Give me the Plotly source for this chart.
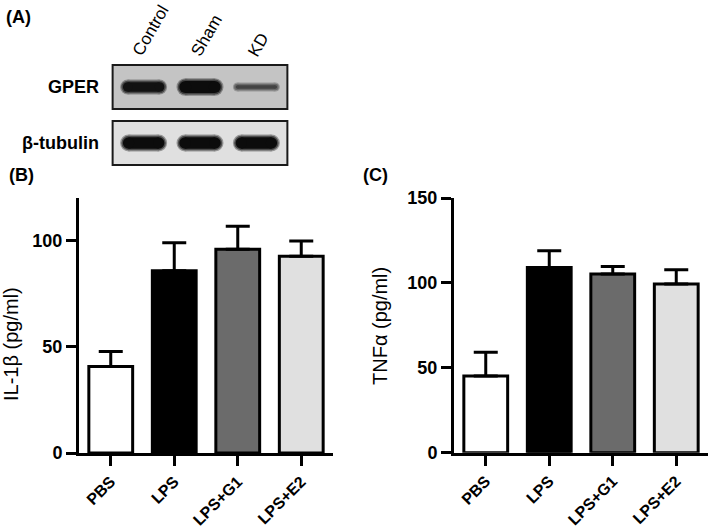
import plotly.graph_objects as go

W, H = 709, 530

# ---------------- data ----------------
groups = ["PBS", "LPS", "LPS+G1", "LPS+E2"]
il1b_mean = [40.7, 85.8, 95.9, 92.6]
il1b_sem = [7.1, 13.2, 10.8, 7.2]
tnfa_mean = [45.2, 109.0, 105.3, 99.4]
tnfa_sem = [14.0, 10.0, 4.3, 8.3]
bar_colors = ["#ffffff", "#000000", "#6b6b6b", "#e0e0e0"]

lanes = ["Control", "Sham", "KD"]
blot_rows = ["GPER", "β-tubulin"]
gper_intensity = [0.82, 1.00, 0.38]
tubulin_intensity = [0.95, 0.95, 0.95]

FONT = "Arial, 'Liberation Sans', Helvetica, sans-serif"


def px(x):
    return x / W


def py(y):
    return 1 - y / H


fig = go.Figure()

# ---------------- bar panels ----------------
for means, sems, xa, ya in [
    (il1b_mean, il1b_sem, "x", "y"),
    (tnfa_mean, tnfa_sem, "x2", "y2"),
]:
    fig.add_trace(go.Bar(
        x=groups, y=means, xaxis=xa, yaxis=ya, width=0.69,
        marker=dict(color=bar_colors, line=dict(color="black", width=3)),
        error_y=dict(type="data", symmetric=False, array=sems,
                     arrayminus=[0] * len(sems), color="black",
                     thickness=3, width=12),
        showlegend=False, hoverinfo="skip",
    ))

axis_common = dict(
    showline=True, linecolor="black", linewidth=3, ticks="outside",
    ticklen=10, tickwidth=3, tickcolor="black", showgrid=False,
    zeroline=False, mirror=False, automargin=False,
)
xcommon = dict(axis_common, range=[-0.5, 3.5], tickangle=-45,
               tickfont=dict(family=FONT, size=16, color="black", weight="bold"))
ycommon = dict(axis_common, dtick=50,
               tickfont=dict(family=FONT, size=18, color="black", weight="bold"))

fig.update_layout(
    xaxis=dict(xcommon, domain=[px(79), px(333)], anchor="y"),
    yaxis=dict(ycommon, domain=[py(453), py(198)], range=[0, 120], anchor="x"),
    xaxis2=dict(xcommon, domain=[px(454), px(708)], anchor="y2"),
    yaxis2=dict(ycommon, domain=[py(452.7), py(198)], range=[0, 150], anchor="x2"),
)

# ---------------- western blot panel ----------------
LANE_PX = 56.4  # pixels per lane on the blot axis
lane_pos = list(range(len(lanes)))
row_pos = {"GPER": 1, "β-tubulin": 0}
fig.update_layout(
    xaxis3=dict(domain=[px(109.8), px(290.2)], range=[-0.6, 2.6], visible=False,
                anchor="y3", fixedrange=True, automargin=False),
    yaxis3=dict(domain=[py(168.2), py(61.8)], range=[-0.45, 1.45], visible=False,
                anchor="x3", fixedrange=True, automargin=False),
)

box_bg = {"GPER": "#c4c4c4", "β-tubulin": "#e0e0e0"}
shapes = []
for r in blot_rows:
    yc = row_pos[r]
    shapes.append(dict(type="rect", xref="x3", yref="y3", x0=-0.55, x1=2.55,
                       y0=yc - 0.393, y1=yc + 0.393, fillcolor=box_bg[r],
                       line=dict(color="#1a1a1a", width=2), layer="below"))
fig.update_layout(shapes=shapes)


def mix(bg, a):
    v = int(round(bg * (1 - a) + 12 * a))
    return f"rgb({v},{v},{v})"


for r, inten in [("GPER", gper_intensity), ("β-tubulin", tubulin_intensity)]:
    yc = row_pos[r]
    bgv = int(box_bg[r][1:3], 16)
    for lp, a in zip(lane_pos, inten):
        thick = 13.5 * a
        dark = 0.72 + 0.3 * a if a > 0.5 else 0.55 + 0.4 * a
        dark = min(dark, 1.0)
        hw = (21.5 - thick / 2) / LANE_PX
        layers = [(thick + 4, dark * 0.35), (thick + 1.5, dark * 0.7), (thick - 1.5, dark)]
        for wdt, d in layers:
            fig.add_trace(go.Scatter(
                x=[lp - hw, lp + hw], y=[yc, yc], xaxis="x3", yaxis="y3",
                mode="lines+markers", line=dict(color=mix(bgv, d), width=wdt),
                marker=dict(size=wdt, color=mix(bgv, d)),
                showlegend=False, hoverinfo="skip"))

annotations = []
lane_label_xy = [(151, 31), (207, 36), (259, 45)]
for name, (lx, ly) in zip(lanes, lane_label_xy):
    annotations.append(dict(x=px(lx), y=py(ly), xref="paper", yref="paper", text=name,
                            textangle=-60, showarrow=False, xanchor="center",
                            yanchor="middle",
                            font=dict(family=FONT, size=17, color="black")))
for r in blot_rows:
    annotations.append(dict(x=px(101), y=row_pos[r], xref="paper", yref="y3",
                            text=r, showarrow=False, xanchor="right",
                            yanchor="middle",
                            font=dict(family=FONT, size=18, color="black", weight="bold")))

for lab, x, y in [("(A)", 4, 17), ("(B)", 7, 175), ("(C)", 361, 175)]:
    annotations.append(dict(x=px(x), y=py(y), xref="paper", yref="paper", text=lab,
                            showarrow=False, xanchor="left", yanchor="middle",
                            font=dict(family=FONT, size=18, color="black", weight="bold")))

annotations.append(dict(x=px(11), y=py(344), xref="paper", yref="paper",
                        text="IL-1β (pg/ml)", textangle=-90, showarrow=False,
                        xanchor="center", yanchor="middle",
                        font=dict(family=FONT, size=20, color="black")))
annotations.append(dict(x=px(380), y=py(326), xref="paper", yref="paper",
                        text="TNFα (pg/ml)", textangle=-90, showarrow=False,
                        xanchor="center", yanchor="middle",
                        font=dict(family=FONT, size=20, color="black")))

fig.update_layout(
    template="none",
    annotations=annotations,
    width=W, height=H, margin=dict(l=0, r=0, t=0, b=0, pad=0),
    paper_bgcolor="white", plot_bgcolor="rgba(0,0,0,0)",
    showlegend=False, autosize=False,
)

fig.write_html("out.html", config={"displayModeBar": False},
               post_script="document.body.style.margin='0px';")
